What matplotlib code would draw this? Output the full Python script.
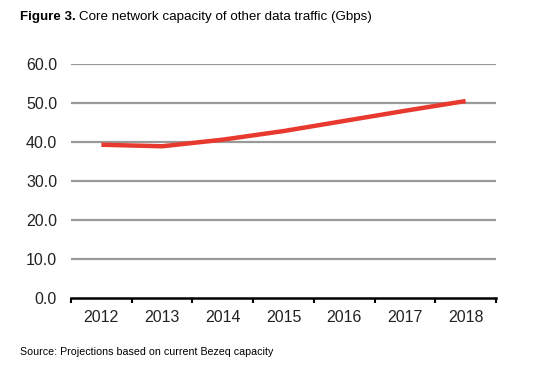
import matplotlib
matplotlib.use("Agg")
import matplotlib.pyplot as plt
import numpy as np

plt.rcParams['font.family'] = ['Liberation Sans', 'DejaVu Sans']

years = ["2012", "2013", "2014", "2015", "2016", "2017", "2018"]
capacity = [39.3, 38.9, 40.6, 42.8, 45.4, 48.0, 50.5]
yticks = [0, 10, 20, 30, 40, 50, 60]

W, H = 540, 373
fig = plt.figure(figsize=(W/100, H/100), dpi=100)
ax = fig.add_axes([71/W, 1-298/H, (496-71)/W, (298-64)/H])

x = np.arange(len(years))
ax.set_xlim(-0.5, len(years)-0.5)
ax.set_ylim(0, 60)
ax.set_yticks(yticks)
ax.set_yticklabels([f"{v:.1f}" for v in yticks], fontsize=11.5, color="#222222")
ax.tick_params(axis='y', length=0, pad=10)
for v in yticks[1:]:
    ax.axhline(v, color="#999999", lw=1.6, zorder=1)

ax.set_xticks(np.arange(-0.5, len(years), 1.0))
ax.set_xticklabels([])
ax.tick_params(axis='x', which='major', length=3.5, width=1.5, direction='out', color='black')
ax.set_xticks(x, minor=True)
ax.set_xticklabels(years, minor=True, fontsize=11.5, color="#222222")
ax.tick_params(axis='x', which='minor', length=0, pad=9)

for s in ['top', 'right', 'left']:
    ax.spines[s].set_visible(False)
ax.spines['bottom'].set_linewidth(1.8)
ax.spines['bottom'].set_color('black')

ax.plot(x, capacity, color="#E8392F", lw=3.2, zorder=3, solid_capstyle='butt')

t1 = fig.text(20/W, 1-17/H, "Figure 3.", fontsize=9.6, fontweight='bold', va='center', ha='left')
fig.canvas.draw()
bb = t1.get_window_extent()
fig.text((bb.x1 + 3)/W, 1-17/H, "Core network capacity of other data traffic (Gbps)", fontsize=9.6, va='center', ha='left')
fig.text(20/W, 1-352/H, "Source: Projections based on current Bezeq capacity", fontsize=7.7, va='center', ha='left')

fig.savefig("out.png", dpi=100)
